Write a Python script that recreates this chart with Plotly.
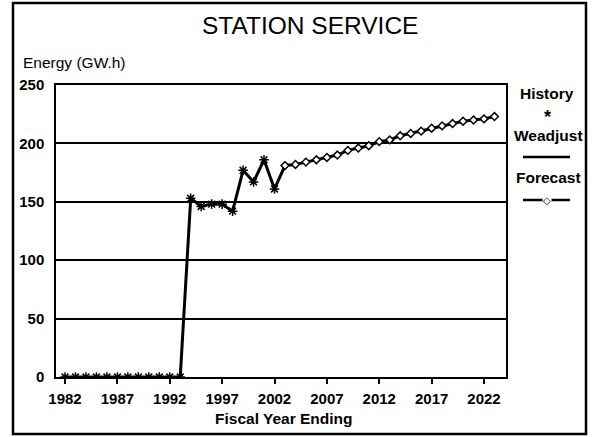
import plotly.graph_objects as go

# history (1982-2002) and forecast (2003-2023), GW.h
history_years = list(range(1982, 2003))
history_values = [0, 0, 0, 0, 0, 0, 0, 0, 0, 0, 0, 0,
                  153, 146, 148, 148, 142, 177, 167, 186, 161]
forecast_years = list(range(2003, 2024))
forecast_values = [181, 182, 184, 186, 188, 190, 194, 196, 198, 201.5, 203,
                   206.5, 208.5, 210.5, 213, 215, 217, 219, 220, 221, 223]
x_ticks = [1982, 1987, 1992, 1997, 2002, 2007, 2012, 2017, 2022]

W, H = 592, 437
L, R, T, B = 56, 506, 85, 377
FONT = "Arial, Liberation Sans, sans-serif"


def px(x):
    return (x - L) / (R - L)


def py(y):
    return (B - y) / (B - T)


bold = dict(family=FONT, size=15.5, color="black", weight="bold")

fig = go.Figure()
# weadjust line runs through the history and into the first forecast year
fig.add_trace(go.Scatter(
    x=history_years + forecast_years[:1], y=history_values + forecast_values[:1],
    mode="lines", line=dict(color="black", width=3), name="Weadjust"))
fig.add_trace(go.Scatter(
    x=history_years, y=history_values, mode="markers",
    marker=dict(symbol="asterisk-open", size=8, color="black",
                line=dict(color="black", width=1.5)),
    name="History"))
fig.add_trace(go.Scatter(
    x=forecast_years, y=forecast_values, mode="lines+markers",
    line=dict(color="black", width=3),
    marker=dict(symbol="diamond", size=6, color="white", line=dict(color="black", width=1.5)),
    name="Forecast"))

shapes = [
    # outer frame
    dict(type="rect", xref="paper", yref="paper", x0=px(13), x1=px(586), y0=py(434), y1=py(3),
         line=dict(color="black", width=2.5)),
    # legend lines
    dict(type="line", xref="paper", yref="paper", x0=px(523), x1=px(570), y0=py(157), y1=py(157),
         line=dict(color="black", width=2.5)),
    dict(type="line", xref="paper", yref="paper", x0=px(523), x1=px(570), y0=py(200), y1=py(200),
         line=dict(color="black", width=2.5)),
]

annotations = [
    dict(text="STATION SERVICE", x=px(310), y=py(26),
         font=dict(family=FONT, size=24.5, color="black")),
    dict(text="Energy (GW.h)", x=px(21), y=py(63), xanchor="left",
         font=dict(family=FONT, size=15.5, color="black")),
    dict(text="Fiscal Year Ending", x=px(284), y=py(418), font=bold),
    dict(text="History", x=px(547), y=py(93), font=bold),
    dict(text="*", x=px(547), y=py(117), font=dict(bold, size=18)),
    dict(text="Weadjust", x=px(548), y=py(135), font=bold),
    dict(text="Forecast", x=px(548), y=py(177), font=bold),
    dict(text="◇", x=px(547), y=py(200),
         font=dict(family="DejaVu Sans", size=10, color="black"), bgcolor="white", borderpad=0),
]
for a in annotations:
    a.setdefault("xref", "paper")
    a.setdefault("yref", "paper")
    a.setdefault("xanchor", "center")
    a.setdefault("yanchor", "middle")
    a.setdefault("showarrow", False)

tick_font = dict(family=FONT, size=15, color="black", weight="bold")

fig.update_layout(
    width=W, height=H,
    margin=dict(l=L, r=W - R, t=T, b=H - B),
    paper_bgcolor="white", plot_bgcolor="white",
    showlegend=False,
    shapes=shapes, annotations=annotations,
    xaxis=dict(
        range=[1981.14, 2024.1], tickvals=x_ticks, ticks="outside", ticklen=5,
        tickwidth=1.5, tickcolor="black", showgrid=False, zeroline=False,
        showline=True, linecolor="black", linewidth=1.5, mirror=True,
        tickfont=tick_font, ticklabelstandoff=2,
    ),
    yaxis=dict(
        range=[0, 250], dtick=50, showgrid=True, gridcolor="black", gridwidth=1.5,
        zeroline=False, showline=True, linecolor="black", linewidth=1.5, mirror=True,
        ticks="", ticklabelstandoff=7, tickfont=tick_font,
    ),
)

fig.write_html("out.html", config={"displayModeBar": False},
               post_script="document.body.style.margin='0';document.body.style.overflow='hidden';")
